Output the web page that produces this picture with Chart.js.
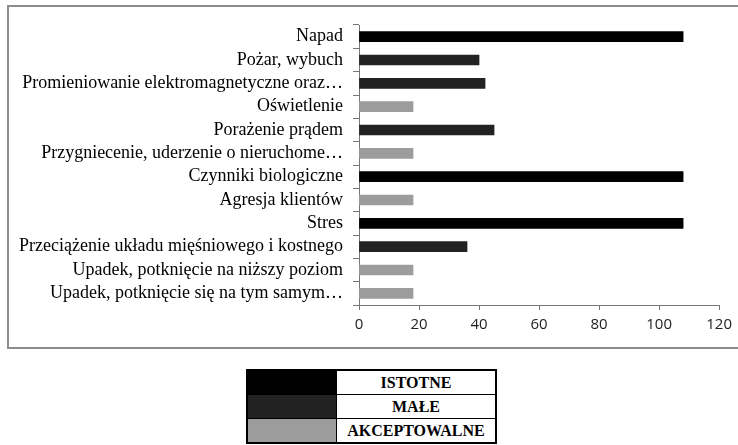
<!DOCTYPE html>
<html>
<head>
<meta charset="utf-8">
<script src="https://cdn.jsdelivr.net/npm/chart.js@4.4.0/dist/chart.umd.min.js"></script>
<style>
  body { margin: 0; background: #fff; width: 738px; height: 445px; overflow: hidden; position: relative; }
  #frame { position: absolute; left: 7px; top: 5px; width: 740px; height: 340px; border: 2px solid #8c8c8c; box-sizing: content-box; }
  #wrap { position: absolute; left: 0; top: 0; width: 738px; height: 350px; }
  #legend { position: absolute; left: 246px; top: 369px; width: 251px; border-collapse: collapse; border: 2px solid #000; }
  #legend td { height: 23px; padding: 0; border: 1px solid #000; font: bold 16px "Liberation Serif", serif; text-align: center; color: #000; }
  #legend td.sw { width: 88px; }
</style>
</head>
<body>
<div id="frame"></div>
<div id="wrap"><canvas id="myChart"></canvas></div>
<table id="legend"></table>
<script>
// categories, top to bottom as in the picture
const labels = [
  "Napad",
  "Pożar, wybuch",
  "Promieniowanie elektromagnetyczne oraz…",
  "Oświetlenie",
  "Porażenie prądem",
  "Przygniecenie, uderzenie o nieruchome…",
  "Czynniki biologiczne",
  "Agresja klientów",
  "Stres",
  "Przeciążenie układu mięśniowego i kostnego",
  "Upadek, potknięcie na niższy poziom",
  "Upadek, potknięcie się na tym samym…"
];
const values = [108, 40, 42, 18, 45, 18, 108, 18, 108, 36, 18, 18];
// risk level of each bar: 0 = ISTOTNE, 1 = MAŁE, 2 = AKCEPTOWALNE
const levels = [0, 1, 1, 2, 1, 2, 0, 2, 0, 1, 2, 2];
const levelNames = ["ISTOTNE", "MAŁE", "AKCEPTOWALNE"];
const levelColors = ["#000000", "#222222", "#9c9c9c"];
const xTicks = [0, 20, 40, 60, 80, 100, 120];

const initChart = (target) => {
  const data = {
    labels: labels,
    datasets: [{
      data: values,
      backgroundColor: levels.map((l) => levelColors[l]),
      borderWidth: 0,
      barThickness: 10
    }]
  };
  const config = {
    type: "bar",
    data: data,
    options: {
      indexAxis: "y",
      responsive: true,
      maintainAspectRatio: false,
      animation: false,
      layout: { padding: { top: 25, right: 18, left: 0, bottom: 0 } },
      plugins: { legend: { display: false }, tooltip: { enabled: false } },
      scales: {
        x: {
          min: 0,
          max: 120,
          afterBuildTicks: (scale) => { scale.ticks = xTicks.map((v) => ({ value: v })); },
          afterFit: (scale) => { scale.height = 45; },
          grid: { drawOnChartArea: false, drawTicks: true, tickLength: 5, color: "#777" },
          border: { color: "#777", width: 1 },
          ticks: { padding: 6, color: "#222", font: { family: "Open Sans", size: 15 } }
        },
        y: {
          afterFit: (scale) => { scale.width = 359; },
          grid: { drawOnChartArea: false, drawTicks: true, tickLength: 6, color: "#777", offset: true },
          border: { color: "#777", width: 1 },
          ticks: { padding: 10, color: "#000", autoSkip: false, font: { family: "Liberation Serif", size: 18 } }
        }
      }
    }
  };
  return new Chart(target, config);
};

function buildLegend(table) {
  levelNames.forEach((name, i) => {
    const row = document.createElement("tr");
    row.innerHTML = `<td class="sw" style="background:${levelColors[i]}"></td><td>${name}</td>`;
    table.appendChild(row);
  });
}

document.addEventListener("DOMContentLoaded", () => {
  initChart(document.querySelector("#myChart"));
  buildLegend(document.querySelector("#legend"));
});
</script>
</body>
</html>
